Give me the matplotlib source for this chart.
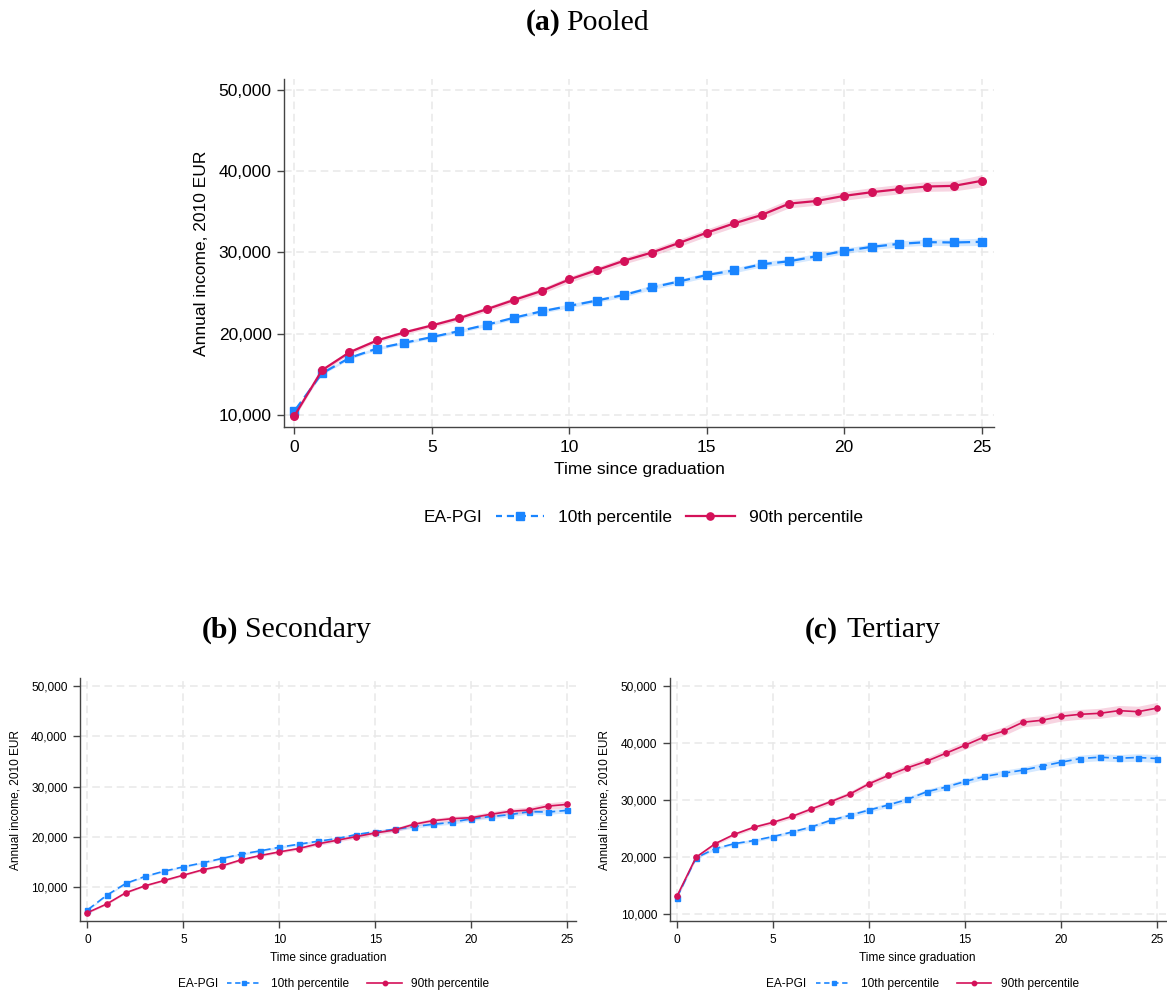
import numpy as np
import matplotlib
matplotlib.use('Agg')
import matplotlib.pyplot as plt
from matplotlib.lines import Line2D

plt.rcParams['font.family'] = ['Liberation Sans', 'DejaVu Sans']

years = list(range(26))

# (a) Pooled
pooled_p10 = [10500, 15110, 17010, 18160, 18870, 19570, 20310, 21090, 21960, 22740,
              23400, 24060, 24760, 25670, 26410, 27200, 27770, 28520, 28890, 29510,
              30160, 30660, 31030, 31240, 31200, 31280]
pooled_p90 = [9900, 15500, 17700, 19150, 20150, 21000, 21900, 23000, 24150, 25250,
              26650, 27800, 28970, 29960, 31150, 32400, 33550, 34580, 35980, 36300,
              36930, 37380, 37750, 38080, 38160, 38780]
pooled_p10_ci = [200, 180, 180, 180, 180, 190, 200, 210, 220, 230, 240, 250, 260,
                 270, 280, 290, 300, 310, 320, 330, 340, 350, 360, 380, 400, 450]
pooled_p90_ci = [250, 250, 250, 250, 250, 250, 280, 300, 320, 340, 370, 380, 400,
                 420, 440, 460, 480, 500, 520, 520, 540, 560, 580, 600, 620, 750]

# (b) Secondary
sec_p10 = [5440, 8350, 10730, 12120, 13170, 14030, 14830, 15690, 16550, 17210,
           17930, 18530, 19120, 19650, 20450, 21040, 21500, 22030, 22500, 22890,
           23620, 24020, 24410, 25010, 24940, 25270]
sec_p90 = [4910, 6630, 8880, 10260, 11320, 12380, 13440, 14230, 15420, 16280,
           17010, 17670, 18600, 19320, 20050, 20780, 21370, 22500, 23220, 23620,
           23820, 24480, 25070, 25340, 26130, 26460]
sec_p10_ci = [200, 180, 180, 180, 190, 200, 210, 220, 230, 240, 250, 260, 270,
              290, 300, 310, 330, 340, 360, 370, 390, 400, 420, 440, 460, 480]
sec_p90_ci = [200, 180, 180, 190, 200, 210, 220, 230, 240, 260, 280, 300, 320,
              340, 360, 380, 400, 430, 460, 480, 500, 520, 560, 600, 640, 700]

# (c) Tertiary
ter_p10 = [12800, 19800, 21430, 22300, 22830, 23530, 24340, 25220, 26380, 27260,
           28190, 29070, 30060, 31400, 32220, 33210, 34080, 34660, 35190, 35890,
           36590, 37230, 37460, 37290, 37410, 37230]
ter_p90 = [13030, 19910, 22300, 23940, 25160, 26030, 27080, 28370, 29650, 30990,
           32800, 34260, 35600, 36760, 38160, 39560, 41020, 42010, 43590, 43940,
           44640, 44990, 45160, 45630, 45450, 46090]
ter_p10_ci = [250, 220, 230, 240, 260, 280, 300, 320, 340, 360, 380, 400, 420,
              440, 460, 480, 500, 520, 540, 560, 580, 600, 620, 640, 660, 700]
ter_p90_ci = [300, 250, 280, 300, 320, 340, 360, 380, 420, 460, 500, 540, 580,
              600, 640, 680, 720, 760, 800, 820, 840, 860, 880, 900, 950, 1000]

yticks = [10000, 20000, 30000, 40000, 50000]
xticks = [0, 5, 10, 15, 20, 25]
legend_labels = ['10th percentile', '90th percentile']
blue = '#1A85FF'
red = '#D41159'


def draw_panel(ax, p10, p90, ci10, ci90, ylim, fs, ms, lw):
    x = np.array(years)
    p10 = np.array(p10); p90 = np.array(p90)
    ci10 = np.array(ci10); ci90 = np.array(ci90)
    ax.fill_between(x, p10 - ci10, p10 + ci10, color=blue, alpha=0.18, lw=0)
    ax.fill_between(x, p90 - ci90, p90 + ci90, color=red, alpha=0.18, lw=0)
    ax.plot(x, p10, color=blue, lw=lw, ls=(0, (5, 2.5)), marker='s', ms=ms)
    ax.plot(x, p90, color=red, lw=lw, marker='o', ms=ms * 1.05)
    ax.set_xlim(-0.38, 25.45)
    ax.set_ylim(*ylim)
    ax.set_xticks(xticks)
    ax.set_yticks(yticks)
    ax.set_yticklabels([f'{v:,}' for v in yticks])
    ax.grid(True, color='#e8e8e8', ls=(0, (5, 3)), lw=1.1)
    ax.set_axisbelow(True)
    for s in ['top', 'right']:
        ax.spines[s].set_visible(False)
    for s in ['left', 'bottom']:
        ax.spines[s].set_color('#444444')
        ax.spines[s].set_linewidth(1.0)
    ax.tick_params(labelsize=fs, length=5, width=1, color='#444444', pad=4)
    ax.set_xlabel('Time since graduation', fontsize=fs, labelpad=5)
    ax.set_ylabel('Annual income, 2010 EUR', fontsize=fs, labelpad=7)


def legend_handles(ms, lw):
    h1 = Line2D([], [], color=blue, lw=lw, ls=(0.5, (3.2, 2.2)), marker='s', ms=ms)
    h2 = Line2D([], [], color=red, lw=lw, marker='o', ms=ms)
    return [h1, h2]


fig = plt.figure(figsize=(11.67, 9.91), dpi=100)

ax_a = fig.add_axes([0.2434, 0.569, 0.6083, 0.3513])
ax_b = fig.add_axes([0.0686, 0.0706, 0.425, 0.2452])
ax_c = fig.add_axes([0.5737, 0.0706, 0.4254, 0.2452])

draw_panel(ax_a, pooled_p10, pooled_p90, pooled_p10_ci, pooled_p90_ci,
           (8500, 51300), 12.5, 5.2, 1.6)
draw_panel(ax_b, sec_p10, sec_p90, sec_p10_ci, sec_p90_ci,
           (3250, 51600), 8.6, 3.6, 1.2)
draw_panel(ax_c, ter_p10, ter_p90, ter_p10_ci, ter_p90_ci,
           (8720, 51350), 8.6, 3.6, 1.2)

# legends
fig.text(0.388, 0.478, 'EA-PGI', fontsize=12.5, ha='center', va='center')
fig.legend(legend_handles(5.2, 1.6), legend_labels, ncol=2, frameon=False,
           loc='center', bbox_to_anchor=(0.582, 0.478), fontsize=12.5,
           handlelength=2.8, numpoints=1, columnspacing=0.8)
for xc, xt in [(0.307, 0.170), (0.812, 0.674)]:
    fig.text(xt, 0.007, 'EA-PGI', fontsize=8.6, ha='center', va='center')
    fig.legend(legend_handles(3.2, 1.2), legend_labels, ncol=2, frameon=False,
               loc='center', bbox_to_anchor=(xc, 0.007), fontsize=8.6,
               handlelength=2.9, numpoints=1, columnspacing=1.5)

# panel titles
serif = ['Liberation Serif', 'DejaVu Serif']
for xb, xr, y, lab, name in [(561, 566, 0.977, '(a)', 'Pooled'),
                             (238, 245, 0.364, '(b)', 'Secondary'),
                             (838, 846, 0.364, '(c)', 'Tertiary')]:
    fig.text(xb / 1167, y, lab, family=serif, fontweight='bold', fontsize=21.5,
             ha='right', va='center')
    fig.text(xr / 1167, y, name, family=serif, fontsize=21.5, ha='left',
             va='center')

fig.savefig('out.png', dpi=100, facecolor='white')
